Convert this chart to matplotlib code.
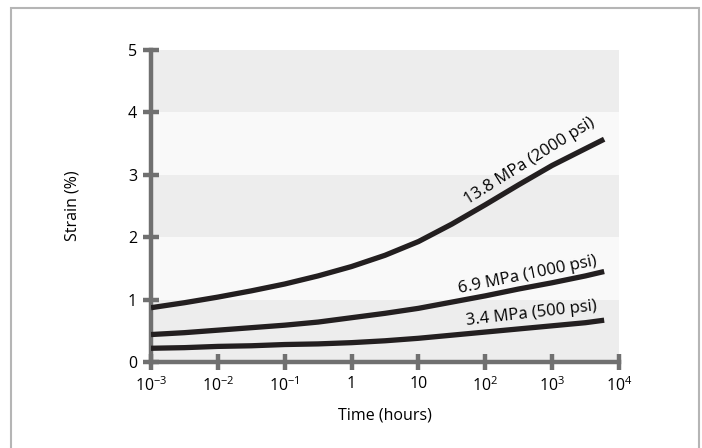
import matplotlib
matplotlib.use("Agg")
import matplotlib.pyplot as plt
from matplotlib.patches import Rectangle

plt.rcParams.update({'font.family': 'Open Sans', 'font.size': 11.5,
                     'mathtext.fontset': 'custom', 'mathtext.rm': 'Open Sans',
                     'mathtext.it': 'Open Sans'})

# data
hours = [1e-3, 3.16e-3, 1e-2, 3.16e-2, 1e-1, 3.16e-1, 1, 3.16, 10, 31.6, 100, 316, 1000, 3160, 6000]
strain_2000 = [0.87, 0.95, 1.04, 1.14, 1.25, 1.38, 1.53, 1.71, 1.93, 2.21, 2.52, 2.84, 3.15, 3.42, 3.57]
strain_1000 = [0.44, 0.47, 0.51, 0.55, 0.59, 0.64, 0.71, 0.78, 0.86, 0.96, 1.06, 1.17, 1.27, 1.38, 1.45]
strain_500 = [0.22, 0.23, 0.25, 0.26, 0.28, 0.29, 0.31, 0.34, 0.38, 0.43, 0.48, 0.53, 0.58, 0.63, 0.67]
labels = ["13.8 MPa (2000 psi)", "6.9 MPa (1000 psi)", "3.4 MPa (500 psi)"]
xticks = [1e-3, 1e-2, 1e-1, 1, 10, 100, 1000, 1e4]
xticklabels = ["$10^{-3}$", "$10^{-2}$", "$10^{-1}$", "1", "10", "$10^{2}$", "$10^{3}$", "$10^{4}$"]

fig = plt.figure(figsize=(7.02, 4.48), dpi=100)
ax = fig.add_axes([151/702, 1 - 362/448, 468/702, 312/448])

# alternating bands
for i in range(5):
    ax.axhspan(i, i + 1, color='#ededed' if i % 2 == 0 else '#f9f9f9', lw=0, zorder=0)

for s in [strain_2000, strain_1000, strain_500]:
    ax.plot(hours, s, color='#231f20', lw=3.8, solid_capstyle='butt',
            solid_joinstyle='round', zorder=3)

ax.set_xscale('log')
ax.set_xlim(1e-3, 1e4)
ax.set_ylim(0, 5)
ax.set_xticks(xticks)
ax.set_xticklabels(xticklabels)
ax.set_yticks(range(6))
ax.minorticks_off()
ax.tick_params(direction='inout', length=12, width=3.2, color='#707070', pad=4, labelsize=11.5)

for side in ['top', 'right']:
    ax.spines[side].set_visible(False)
for side in ['left', 'bottom']:
    ax.spines[side].set_color('#707070')
    ax.spines[side].set_linewidth(3.2)

ax.set_ylabel("Strain (%)", fontsize=11.5, labelpad=34)
ax.set_xlabel("Time (hours)", fontsize=11.5, labelpad=9)

ax.text(460, 3.22, labels[0], rotation=32, ha='center', va='center', fontsize=12, zorder=4)
ax.text(425, 1.39, labels[1], rotation=11.5, ha='center', va='center', fontsize=12, zorder=4)
ax.text(490, 0.78, labels[2], rotation=6.5, ha='center', va='center', fontsize=12, zorder=4)

# outer frame
fig.patches.append(Rectangle((11/702, -0.1), 688/702, 1.1 - 8/448, transform=fig.transFigure,
                             fill=False, ec='#b5b5b5', lw=1.5))

fig.savefig("out.png", dpi=100)
